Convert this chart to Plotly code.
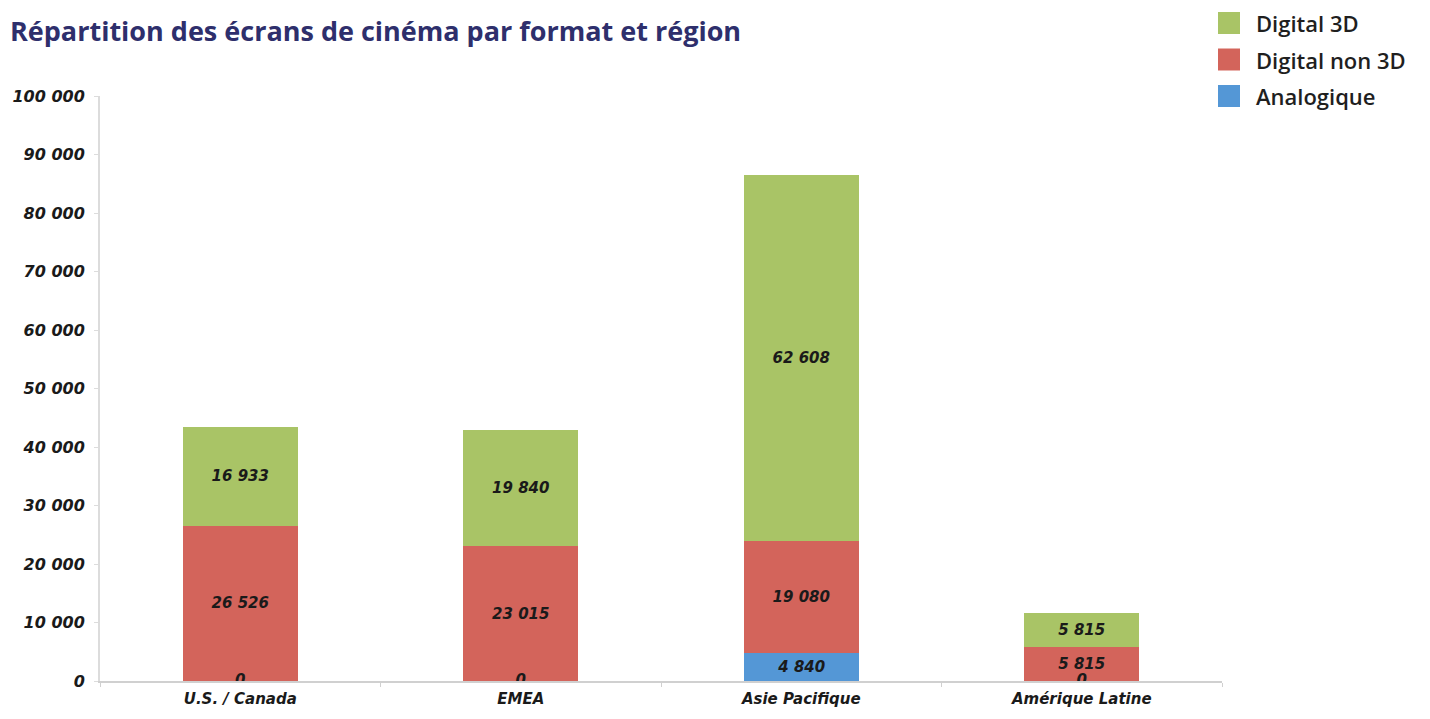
import plotly.graph_objects as go

regions = ["U.S. / Canada", "EMEA", "Asie Pacifique", "Amérique Latine"]
analogique = [0, 0, 4840, 0]
digital_non_3d = [26526, 23015, 19080, 5815]
digital_3d = [16933, 19840, 62608, 5815]
y_ticks = [0, 10000, 20000, 30000, 40000, 50000, 60000, 70000, 80000, 90000, 100000]

label_font = dict(family="DejaVu Sans", size=15, color="#1a1a1a", weight="bold", style="italic")

# the page body adds an 8px margin, so the figure is 16px smaller than the window
W, H = 1414, 703
L, R, T, B = 92, 200, 88, 30
plot_w, plot_h = W - L - R, H - T - B

fig = go.Figure()
series = [("Analogique", analogique, "#5497d6"),
          ("Digital non 3D", digital_non_3d, "#d3645b"),
          ("Digital 3D", digital_3d, "#a9c466")]
for name, vals, color in series:
    fig.add_trace(go.Bar(
        x=regions, y=vals, name=name, marker_color=color, marker_line_width=0,
        text=[f"{v:,}".replace(",", " ") if v else "" for v in vals],
        textposition="inside", insidetextanchor="middle", constraintext="none",
        textfont=label_font, width=0.41, showlegend=False,
    ))

# zero labels for empty analog segments
zero_x = [r for r, v in zip(regions, analogique) if v == 0]
fig.add_trace(go.Scatter(
    x=zero_x, y=[0] * len(zero_x), mode="text", text=["0"] * len(zero_x),
    textposition="middle center", textfont=label_font, showlegend=False, hoverinfo="skip",
))

# title at the top left
fig.add_annotation(text="<b>Répartition des écrans de cinéma par format et région</b>",
                   xref="paper", yref="paper", x=(0 - L) / plot_w, y=1 + (T - 2) / plot_h,
                   xanchor="left", yanchor="top", showarrow=False,
                   font=dict(family="Open Sans", size=27, color="#2e2f6c"))

# legend drawn as squares + labels (top to bottom: 3D, non 3D, analog)
for i, (name, vals, color) in enumerate(reversed(series)):
    cy = 15 + 36.5 * i
    y0 = 1 + (T - (cy + 11)) / plot_h
    y1 = 1 + (T - (cy - 11)) / plot_h
    fig.add_shape(type="rect", xref="paper", yref="paper",
                  x0=(1210 - L) / plot_w, x1=(1232 - L) / plot_w, y0=y0, y1=y1,
                  fillcolor=color, line_width=0)
    fig.add_annotation(text=name, xref="paper", yref="paper",
                       x=(1247 - L) / plot_w, y=(y0 + y1) / 2,
                       xanchor="left", yanchor="middle", showarrow=False, borderpad=0,
                       font=dict(family="Open Sans", size=22, color="#1f1f1f", weight=600))

fig.update_layout(
    barmode="stack",
    width=W, height=H,
    margin=dict(l=L, r=R, t=T, b=B),
    paper_bgcolor="white", plot_bgcolor="white",
    separators=", ",
    showlegend=False,
)
fig.update_xaxes(showline=True, linecolor="#d0d0d0", linewidth=2, ticks="outside",
                 tickson="boundaries", ticklen=4, tickcolor="#d0d0d0", ticklabelstandoff=3,
                 tickfont=label_font, showgrid=False, zeroline=False, automargin=False)
fig.update_yaxes(range=[0, 100000], tickvals=y_ticks, tickformat=",d",
                 showline=True, linecolor="#dcdcdc", linewidth=2, ticks="outside",
                 ticklen=4, tickcolor="#dcdcdc", ticklabelstandoff=6,
                 tickfont=dict(label_font, size=16), showgrid=False, zeroline=False,
                 automargin=False)

fig.write_html("out.html")
